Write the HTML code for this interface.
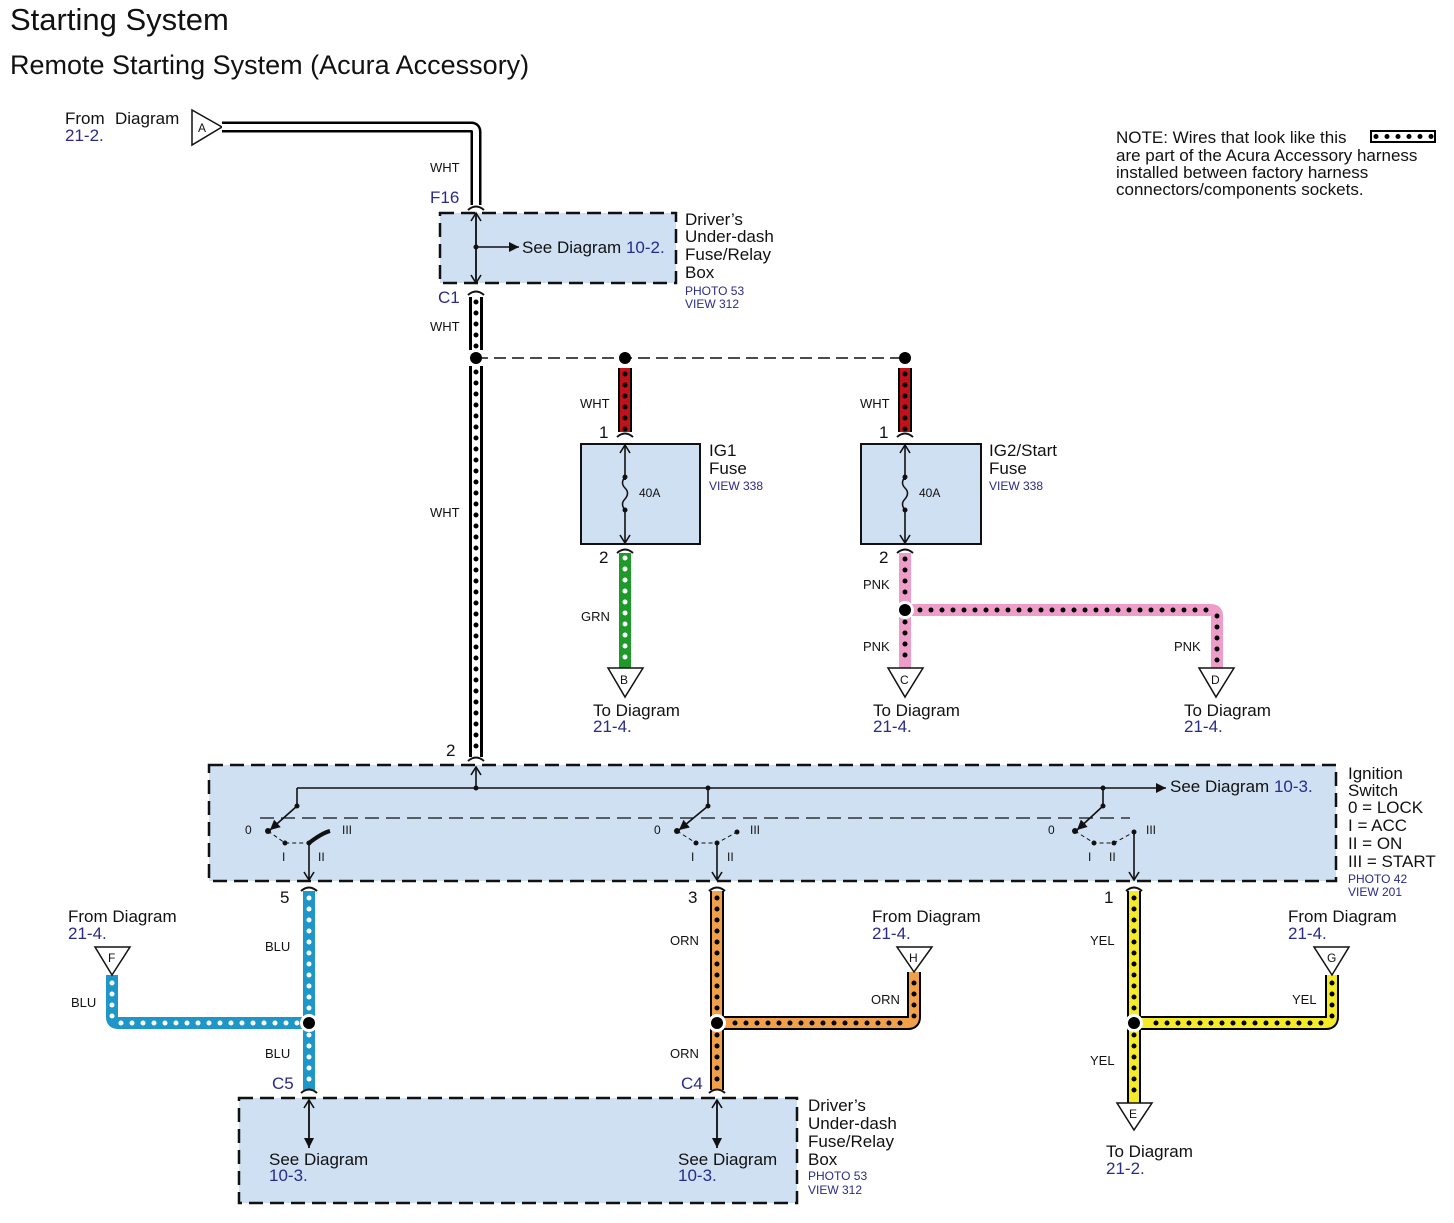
<!DOCTYPE html>
<html><head><meta charset="utf-8"><style>
html,body{margin:0;padding:0;background:#fff}
svg{display:block}
text{font-family:"Liberation Sans",Arial,sans-serif;fill:#111}
.n{fill:#2a2a8a}
.s{font-size:13px}
.m{font-size:17px}
.sm{font-size:12px}
path,line,polyline{fill:none}
.o{stroke:#000;stroke-width:14;stroke-linejoin:round}
.d{stroke-dasharray:0 11;stroke-linecap:round;stroke-width:5}
.box{fill:#cfe0f3;stroke:#111;stroke-width:2.5;stroke-dasharray:14 7}
.ln{stroke:#111;stroke-width:1.6}
</style></head><body>
<svg width="1454" height="1223" viewBox="0 0 1454 1223" xmlns="http://www.w3.org/2000/svg">
<defs>
<marker id="ar" markerWidth="12" markerHeight="12" refX="9" refY="6" orient="auto" markerUnits="userSpaceOnUse"><path d="M1,1 L9,6 L1,11" style="stroke:#111;stroke-width:1.6;fill:none"/></marker>
<marker id="at" markerWidth="12" markerHeight="12" refX="10" refY="6" orient="auto" markerUnits="userSpaceOnUse"><path d="M0,1 L10,6 L0,11 Z" style="fill:#111;stroke:none"/></marker>
</defs>
<text x="10" y="30" style="font-size:31px">Starting System</text>
<text x="10" y="74" style="font-size:27px">Remote Starting System (Acura Accessory)</text>

<!-- Note -->
<text x="1116" y="143" class="m">NOTE: Wires that look like this</text>
<text x="1116" y="161" class="m">are part of the Acura Accessory harness</text>
<text x="1116" y="178" class="m">installed between factory harness</text>
<text x="1116" y="195" class="m">connectors/components sockets.</text>
<rect x="1371" y="131" width="64" height="11" fill="#fff" stroke="#000" stroke-width="2"/>
<line x1="1376" y1="136.5" x2="1432" y2="136.5" stroke="#000" class="d"/>

<!-- Connector A and white wire -->
<polygon points="192,110 222,127 192,145" fill="#fff" stroke="#111" stroke-width="1.5"/>
<text x="198" y="132" class="sm">A</text>
<path d="M222,127 H471 Q476,127 476,132 V205" stroke="#000" stroke-width="11"/>
<path d="M222,127 H471 Q476,127 476,132 V205" stroke="#fff" stroke-width="6"/>
<text x="65" y="124" class="m">From</text><text x="115" y="124" class="m">Diagram</text>
<text x="65" y="141" class="m n">21-2.</text>
<text x="430" y="172" class="s">WHT</text>
<text x="430" y="203" class="m n">F16</text>
<path d="M468,210 Q476,203 484,210" stroke="#111" stroke-width="2"/>

<!-- top fuse/relay box -->
<rect x="440" y="213" width="236" height="70" class="box"/>
<line x1="476" y1="280" x2="476" y2="213" class="ln" marker-end="url(#ar)"/>
<line x1="476" y1="216" x2="476" y2="283" class="ln" marker-end="url(#ar)"/>
<line x1="476" y1="247" x2="519" y2="247" class="ln" marker-end="url(#at)"/>
<circle cx="476" cy="247" r="2.5" fill="#111"/>
<text x="522" y="253" class="m">See Diagram <tspan class="n">10-2.</tspan></text>
<text x="685" y="225" class="m">Driver’s</text>
<text x="685" y="242" class="m">Under-dash</text>
<text x="685" y="260" class="m">Fuse/Relay</text>
<text x="685" y="278" class="m">Box</text>
<text x="685" y="295" class="sm n">PHOTO 53</text>
<text x="685" y="308" class="sm n">VIEW 312</text>
<text x="438" y="303" class="m n">C1</text>
<path d="M468,295 Q476,288 484,295" stroke="#111" stroke-width="2"/>

<!-- WHT accessory wire -->
<path d="M476,297 V350 M476,366 V757" class="o" stroke-width="12"/>
<path d="M476,297 V350 M476,366 V757" stroke="#fff" stroke-width="8"/>
<path d="M476,302 V350 M476,372 V757" stroke="#000" class="d"/>
<text x="430" y="331" class="s">WHT</text>
<text x="430" y="517" class="s">WHT</text>
<text x="446" y="756" class="m">2</text>
<path d="M468,761 Q476,754 484,761" stroke="#111" stroke-width="2"/>
<line x1="476" y1="358" x2="905" y2="358" stroke="#111" stroke-width="1.5" stroke-dasharray="12 6"/>
<circle cx="476" cy="358" r="6" fill="#000"/>
<circle cx="625" cy="358" r="6" fill="#000"/>
<circle cx="905" cy="358" r="6" fill="#000"/>

<!-- IG1 -->
<path d="M625,368 V432" class="o"/><path d="M625,368 V432" stroke="#c1121b" stroke-width="10"/>
<path d="M625,374 V430" stroke="#000" class="d"/>
<path d="M617,437 Q625,430 633,437" stroke="#111" stroke-width="2"/>
<text x="580" y="408" class="s">WHT</text>
<text x="599" y="438" class="m">1</text>
<rect x="581" y="444" width="119" height="100" fill="#cfe0f3" stroke="#111" stroke-width="2"/>
<line x1="625" y1="510" x2="625" y2="445" class="ln" marker-end="url(#ar)"/>
<line x1="625" y1="478" x2="625" y2="543" class="ln" marker-end="url(#ar)"/>
<rect x="619" y="480" width="12" height="28" fill="#cfe0f3"/>
<path d="M625,477 Q620,483 625,488 Q630,493 625,499 Q620,504 625,510" stroke="#111" stroke-width="1.5"/>
<circle cx="625" cy="477" r="2.5" fill="#111"/><circle cx="625" cy="510" r="2.5" fill="#111"/>
<text x="639" y="497" class="sm">40A</text>
<text x="709" y="456" class="m">IG1</text>
<text x="709" y="474" class="m">Fuse</text>
<text x="709" y="490" class="sm n">VIEW 338</text>
<path d="M617,553 Q625,546 633,553" stroke="#111" stroke-width="2"/>
<text x="599" y="563" class="m">2</text>
<path d="M625,553 V668" stroke="#1d9a2a" stroke-width="12"/>
<path d="M625,558 V665" stroke="#fff" class="d"/>
<text x="581" y="621" class="s">GRN</text>
<polygon points="608,668 643,668 625,697" fill="#fff" stroke="#111" stroke-width="1.5"/>
<text x="620" y="684" class="sm">B</text>
<text x="593" y="716" class="m">To Diagram</text>
<text x="593" y="732" class="m n">21-4.</text>

<!-- IG2 -->
<path d="M905,368 V432" class="o"/><path d="M905,368 V432" stroke="#c1121b" stroke-width="10"/>
<path d="M905,374 V430" stroke="#000" class="d"/>
<path d="M897,437 Q905,430 913,437" stroke="#111" stroke-width="2"/>
<text x="860" y="408" class="s">WHT</text>
<text x="879" y="438" class="m">1</text>
<rect x="861" y="444" width="120" height="100" fill="#cfe0f3" stroke="#111" stroke-width="2"/>
<line x1="905" y1="510" x2="905" y2="445" class="ln" marker-end="url(#ar)"/>
<line x1="905" y1="478" x2="905" y2="543" class="ln" marker-end="url(#ar)"/>
<rect x="899" y="480" width="12" height="28" fill="#cfe0f3"/>
<path d="M905,477 Q900,483 905,488 Q910,493 905,499 Q900,504 905,510" stroke="#111" stroke-width="1.5"/>
<circle cx="905" cy="477" r="2.5" fill="#111"/><circle cx="905" cy="510" r="2.5" fill="#111"/>
<text x="919" y="497" class="sm">40A</text>
<text x="989" y="456" class="m">IG2/Start</text>
<text x="989" y="474" class="m">Fuse</text>
<text x="989" y="490" class="sm n">VIEW 338</text>
<path d="M897,553 Q905,546 913,553" stroke="#111" stroke-width="2"/>
<text x="879" y="563" class="m">2</text>
<path d="M905,553 V668 M905,610 H1211 Q1217,610 1217,616 V668" stroke="#ee9cc8" stroke-width="12" stroke-linejoin="round"/>
<path d="M905,559 V600 M905,622 V665 M920,610 H1211 M1217,616 V665" stroke="#000" class="d"/>
<circle cx="905" cy="610" r="9" fill="#fff"/><circle cx="905" cy="610" r="6" fill="#000"/>
<text x="863" y="589" class="s">PNK</text>
<text x="863" y="651" class="s">PNK</text>
<text x="1174" y="651" class="s">PNK</text>
<polygon points="888,668 923,668 905,697" fill="#fff" stroke="#111" stroke-width="1.5"/>
<text x="900" y="684" class="sm">C</text>
<polygon points="1199,668 1234,668 1216,697" fill="#fff" stroke="#111" stroke-width="1.5"/>
<text x="1211" y="684" class="sm">D</text>
<text x="873" y="716" class="m">To Diagram</text>
<text x="873" y="732" class="m n">21-4.</text>
<text x="1184" y="716" class="m">To Diagram</text>
<text x="1184" y="732" class="m n">21-4.</text>

<!-- Ignition switch -->
<rect x="209" y="765" width="1127" height="116" class="box"/>
<line x1="476" y1="788" x2="476" y2="767" class="ln" marker-end="url(#ar)"/>
<line x1="297" y1="788" x2="1166" y2="788" class="ln" marker-end="url(#at)"/>
<line x1="297" y1="788" x2="297" y2="806" class="ln"/>
<line x1="708" y1="788" x2="708" y2="806" class="ln"/>
<line x1="1103" y1="788" x2="1103" y2="806" class="ln"/>
<circle cx="476" cy="788" r="2.5" fill="#111"/><circle cx="708" cy="788" r="2.5" fill="#111"/><circle cx="1103" cy="788" r="2.5" fill="#111"/>
<line x1="260" y1="818" x2="1130" y2="818" stroke="#111" stroke-width="1.2" stroke-dasharray="14 7"/>
<text x="1170" y="792" class="m">See Diagram <tspan class="n">10-3.</tspan></text>
<g fill="#111">
<circle cx="297" cy="806" r="2.5"/><line x1="297" y1="806" x2="270" y2="830" class="ln" marker-end="url(#at)"/>
<circle cx="268" cy="831" r="3"/><circle cx="285" cy="843" r="2.5"/><circle cx="309" cy="843" r="2.5"/>
<path d="M268,831 L285,843 L309,843" stroke="#111" stroke-width="1" stroke-dasharray="4 3"/>
<path d="M309,843 Q322,833 330,831" stroke="#111" stroke-width="4"/>
<line x1="309" y1="843" x2="309" y2="880" class="ln" marker-end="url(#ar)"/>
<text x="245" y="834" class="sm">0</text><text x="282" y="861" class="sm">I</text><text x="318" y="861" class="sm">II</text><text x="342" y="834" class="sm">III</text>
<circle cx="708" cy="806" r="2.5"/><line x1="708" y1="806" x2="679" y2="830" class="ln" marker-end="url(#at)"/>
<circle cx="677" cy="831" r="3"/><circle cx="696" cy="843" r="2.5"/><circle cx="717" cy="843" r="2.5"/><circle cx="737" cy="832" r="2.5"/>
<path d="M677,831 L696,843 L717,843 L737,832" stroke="#111" stroke-width="1" stroke-dasharray="4 3"/>
<line x1="717" y1="843" x2="717" y2="880" class="ln" marker-end="url(#ar)"/>
<text x="654" y="834" class="sm">0</text><text x="691" y="861" class="sm">I</text><text x="727" y="861" class="sm">II</text><text x="750" y="834" class="sm">III</text>
<circle cx="1103" cy="806" r="2.5"/><line x1="1103" y1="806" x2="1077" y2="830" class="ln" marker-end="url(#at)"/>
<circle cx="1075" cy="831" r="3"/><circle cx="1094" cy="843" r="2.5"/><circle cx="1114" cy="843" r="2.5"/><circle cx="1134" cy="832" r="2.5"/>
<path d="M1075,831 L1094,843 L1114,843 L1134,832" stroke="#111" stroke-width="1" stroke-dasharray="4 3"/>
<line x1="1134" y1="832" x2="1134" y2="880" class="ln" marker-end="url(#ar)"/>
<text x="1048" y="834" class="sm">0</text><text x="1088" y="861" class="sm">I</text><text x="1109" y="861" class="sm">II</text><text x="1146" y="834" class="sm">III</text>
</g>
<text x="1348" y="779" class="m">Ignition</text>
<text x="1348" y="796" class="m">Switch</text>
<text x="1348" y="813" class="m">0 = LOCK</text>
<text x="1348" y="831" class="m">I = ACC</text>
<text x="1348" y="849" class="m">II = ON</text>
<text x="1348" y="867" class="m">III = START</text>
<text x="1348" y="883" class="sm n">PHOTO 42</text>
<text x="1348" y="896" class="sm n">VIEW 201</text>

<path d="M301,891 Q309,884 317,891" stroke="#111" stroke-width="2"/>
<path d="M709,891 Q717,884 725,891" stroke="#111" stroke-width="2"/>
<path d="M1126,891 Q1134,884 1142,891" stroke="#111" stroke-width="2"/>
<text x="280" y="903" class="m">5</text><text x="688" y="903" class="m">3</text><text x="1104" y="903" class="m">1</text>

<!-- BLU -->
<path d="M309,891 V1090 M309,1023 H118 Q112,1023 112,1017 V975" stroke="#1e96c8" stroke-width="12" stroke-linejoin="round"/>
<path d="M309,898 V1012 M309,1035 V1085 M297,1023 H120 M112,1016 V980" stroke="#fff" class="d"/>
<circle cx="309" cy="1023" r="9" fill="#fff"/><circle cx="309" cy="1023" r="6" fill="#000"/>
<polygon points="95,947 130,947 112,975" fill="#fff" stroke="#111" stroke-width="1.5"/>
<text x="108" y="962" class="sm">F</text>
<text x="68" y="922" class="m">From Diagram</text><text x="68" y="939" class="m n">21-4.</text>
<text x="265" y="951" class="s">BLU</text><text x="71" y="1007" class="s">BLU</text><text x="265" y="1058" class="s">BLU</text>
<text x="272" y="1089" class="m n">C5</text>

<!-- ORN -->
<path d="M717,891 V1090 M717,1023 H908 Q914,1023 914,1017 V972" class="o" stroke-width="14"/>
<path d="M717,891 V1090 M717,1023 H908 Q914,1023 914,1017 V972" stroke="#f0a04a" stroke-width="10" stroke-linejoin="round"/>
<path d="M717,898 V1012 M717,1035 V1085 M735,1023 H906 M914,1016 V978" stroke="#000" class="d"/>
<circle cx="717" cy="1023" r="9" fill="#fff"/><circle cx="717" cy="1023" r="6" fill="#000"/>
<polygon points="897,947 932,947 914,972" fill="#fff" stroke="#111" stroke-width="1.5"/>
<text x="909" y="962" class="sm">H</text>
<text x="872" y="922" class="m">From Diagram</text><text x="872" y="939" class="m n">21-4.</text>
<text x="670" y="945" class="s">ORN</text><text x="871" y="1004" class="s">ORN</text><text x="670" y="1058" class="s">ORN</text>
<text x="681" y="1089" class="m n">C4</text>

<!-- YEL -->
<path d="M1134,891 V1103 M1134,1023 H1326 Q1332,1023 1332,1017 V975" class="o" stroke-width="14"/>
<path d="M1134,891 V1103 M1134,1023 H1326 Q1332,1023 1332,1017 V975" stroke="#f4ea2a" stroke-width="10" stroke-linejoin="round"/>
<path d="M1134,898 V1012 M1134,1035 V1098 M1156,1023 H1324 M1332,1016 V980" stroke="#000" class="d"/>
<circle cx="1134" cy="1023" r="9" fill="#fff"/><circle cx="1134" cy="1023" r="6" fill="#000"/>
<polygon points="1314,947 1349,947 1332,975" fill="#fff" stroke="#111" stroke-width="1.5"/>
<text x="1327" y="962" class="sm">G</text>
<polygon points="1117,1103 1152,1103 1134,1130" fill="#fff" stroke="#111" stroke-width="1.5"/>
<text x="1129" y="1118" class="sm">E</text>
<text x="1288" y="922" class="m">From Diagram</text><text x="1288" y="939" class="m n">21-4.</text>
<text x="1106" y="1157" class="m">To Diagram</text><text x="1106" y="1174" class="m n">21-2.</text>
<text x="1090" y="945" class="s">YEL</text><text x="1292" y="1004" class="s">YEL</text><text x="1090" y="1065" class="s">YEL</text>

<path d="M301,1093 Q309,1086 317,1093" stroke="#111" stroke-width="2"/>
<path d="M709,1093 Q717,1086 725,1093" stroke="#111" stroke-width="2"/>

<!-- bottom box -->
<rect x="239" y="1098" width="558" height="105" class="box"/>
<line x1="309" y1="1148" x2="309" y2="1100" class="ln" marker-end="url(#ar)"/>
<line x1="309" y1="1100" x2="309" y2="1148" class="ln" marker-end="url(#at)"/>
<line x1="717" y1="1148" x2="717" y2="1100" class="ln" marker-end="url(#ar)"/>
<line x1="717" y1="1100" x2="717" y2="1148" class="ln" marker-end="url(#at)"/>
<text x="269" y="1165" class="m">See Diagram</text><text x="269" y="1181" class="m n">10-3.</text>
<text x="678" y="1165" class="m">See Diagram</text><text x="678" y="1181" class="m n">10-3.</text>
<text x="808" y="1111" class="m">Driver’s</text>
<text x="808" y="1129" class="m">Under-dash</text>
<text x="808" y="1147" class="m">Fuse/Relay</text>
<text x="808" y="1165" class="m">Box</text>
<text x="808" y="1180" class="sm n">PHOTO 53</text>
<text x="808" y="1194" class="sm n">VIEW 312</text>
</svg>
</body></html>
